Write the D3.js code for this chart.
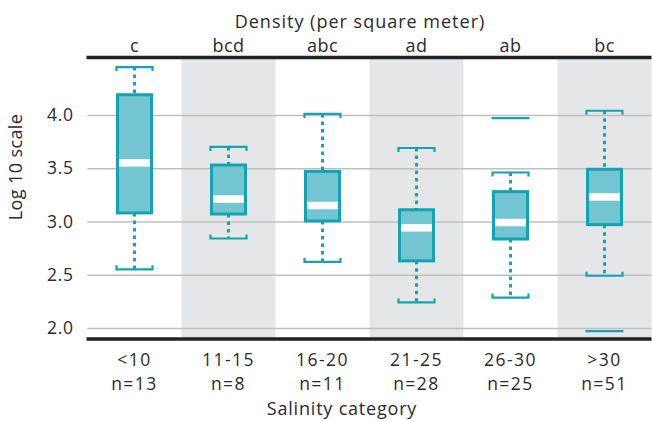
<!DOCTYPE html>
<html><head><meta charset="utf-8">
<script src="https://cdn.jsdelivr.net/npm/d3@7"></script>
<style>
html,body{margin:0;padding:0;background:#fff;}
svg{display:block;font-family:"Open Sans",sans-serif;}
</style></head>
<body><svg id="c" width="652" height="421"></svg>
<script>
const categories = ["<10","11-15","16-20","21-25","26-30",">30"];
const counts = ["n=13","n=8","n=11","n=28","n=25","n=51"];
const letters = ["c","bcd","abc","ad","ab","bc"];
const whiskerLow = [2.55, 2.84, 2.62, 2.24, 2.285, 2.49];
const q1 = [3.08, 3.07, 3.005, 2.63, 2.835, 2.97];
const medians = [3.55, 3.21, 3.15, 2.94, 2.99, 3.23];
const q3 = [4.19, 3.53, 3.47, 3.11, 3.28, 3.49];
const whiskerHigh = [4.45, 3.70, 4.01, 3.69, 3.46, 4.04];
const outliers = [[], [], [], [], [3.97], [1.97]];
const yTicks = [2.0, 2.5, 3.0, 3.5, 4.0];
const yDomain = [1.896, 4.54];

const svg = d3.select("#c");
const plotL = 87.5, plotR = 651.5, plotT = 57.5, plotB = 339;
const x = d3.scaleBand().domain(categories).range([plotL, plotR]).padding(0);
const y = d3.scaleLinear().domain(yDomain).range([plotB, plotT]);

const teal = "#13a3b3", fillC = "#73c6d1", txt = "#2b2b2b";

svg.append("g").selectAll("rect").data(categories.filter((d,i)=>i%2===1)).join("rect")
  .attr("x", d=>x(d)).attr("y", plotT).attr("width", x.bandwidth()).attr("height", plotB-plotT)
  .attr("fill", "#e5e6e8");

const yAxis = d3.axisLeft(y).tickValues(yTicks).tickFormat(d3.format(".1f")).tickSize(-(plotR-plotL)).tickPadding(14);
const gy = svg.append("g").attr("transform", `translate(${plotL},0)`).call(yAxis);
gy.select(".domain").remove();
gy.selectAll(".tick line").attr("stroke", "#bfbfbf").attr("stroke-width", 1.5);
gy.selectAll(".tick text").attr("fill", txt).attr("font-size", 17.5).attr("font-family", "Open Sans").attr("letter-spacing", 0.6);

svg.append("line").attr("x1", plotL-1).attr("x2", plotR).attr("y1", plotT).attr("y2", plotT).attr("stroke", "#222").attr("stroke-width", 3.5);
svg.append("line").attr("x1", plotL-1).attr("x2", plotR).attr("y1", plotB).attr("y2", plotB).attr("stroke", "#222").attr("stroke-width", 3.5);

const boxW = 34, capW = 36, sw = 3;
const g = svg.append("g");
categories.forEach((c, i) => {
  const cx = x(c) + x.bandwidth()/2;
  g.append("line").attr("x1", cx).attr("x2", cx).attr("y1", y(whiskerHigh[i])).attr("y2", y(q3[i]))
    .attr("stroke", teal).attr("stroke-width", 3).attr("stroke-dasharray", "3.5,4");
  g.append("line").attr("x1", cx).attr("x2", cx).attr("y1", y(q1[i])).attr("y2", y(whiskerLow[i]))
    .attr("stroke", teal).attr("stroke-width", 3).attr("stroke-dasharray", "3.5,4");
  const yh = y(whiskerHigh[i]), yl = y(whiskerLow[i]);
  g.append("path").attr("d", `M${cx-capW/2},${yh+4}V${yh}H${cx+capW/2}V${yh+4}`)
    .attr("fill", "none").attr("stroke", teal).attr("stroke-width", 2.2);
  g.append("path").attr("d", `M${cx-capW/2},${yl-4}V${yl}H${cx+capW/2}V${yl-4}`)
    .attr("fill", "none").attr("stroke", teal).attr("stroke-width", 2.2);
  g.append("rect").attr("x", cx-boxW/2).attr("y", y(q3[i])).attr("width", boxW).attr("height", y(q1[i])-y(q3[i]))
    .attr("fill", fillC).attr("stroke", teal).attr("stroke-width", sw);
  g.append("rect").attr("x", cx-boxW/2+sw/2).attr("y", y(medians[i])-3.75).attr("width", boxW-sw).attr("height", 7.5)
    .attr("fill", "#fff");
  outliers[i].forEach(o => {
    g.append("line").attr("x1", cx-capW/2-1).attr("x2", cx+capW/2+1).attr("y1", y(o)).attr("y2", y(o))
      .attr("stroke", teal).attr("stroke-width", 2.2);
  });
});

svg.append("g").selectAll("text").data(letters).join("text")
  .attr("x", (d,i)=>x(categories[i])+x.bandwidth()/2).attr("y", 52)
  .attr("text-anchor", "middle").attr("font-size", 18).attr("letter-spacing", 0.5).attr("fill", txt).text(d=>d);

const xAxis = d3.axisBottom(x).tickSize(0).tickPadding(0);
const gx = svg.append("g").attr("transform", `translate(0,${plotB})`).call(xAxis);
gx.select(".domain").remove();
gx.selectAll(".tick text").remove();
gx.selectAll(".tick").each(function(d, i){
  const t = d3.select(this);
  t.append("text").attr("y", 27).attr("text-anchor","middle").attr("font-size",17.5)
    .attr("letter-spacing", 1.5).attr("fill",txt).attr("font-family","Open Sans").text(d);
  t.append("text").attr("y", 51).attr("text-anchor","middle").attr("font-size",17.5)
    .attr("letter-spacing", 1.5).attr("fill",txt).attr("font-family","Open Sans").text(counts[i]);
});

svg.append("text").attr("x", 360).attr("y", 28).attr("text-anchor","middle").attr("font-size",18).attr("letter-spacing",1).attr("fill",txt).text("Density (per square meter)");
svg.append("text").attr("x", 342).attr("y", 415).attr("text-anchor","middle").attr("font-size",18).attr("letter-spacing",0.8).attr("fill",txt).text("Salinity category");
svg.append("text").attr("transform","translate(22,167) rotate(-90)").attr("text-anchor","middle").attr("font-size",18).attr("letter-spacing",0.4).attr("fill",txt).text("Log 10 scale");
</script></body></html>
